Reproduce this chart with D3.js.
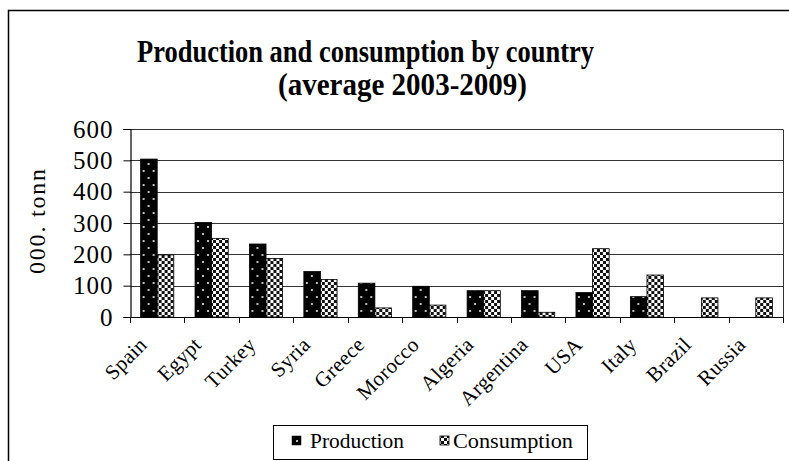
<!DOCTYPE html>
<html><head><meta charset="utf-8">
<script src="https://cdn.jsdelivr.net/npm/d3@7"></script>
<style>
html,body{margin:0;padding:0;background:#fff;}
svg{display:block;}
text{font-family:"Liberation Serif","Times New Roman",serif;fill:#000;}
</style></head>
<body>
<svg id="chart" width="789" height="461"></svg>
<script>
const countries = ["Spain","Egypt","Turkey","Syria","Greece","Morocco","Algeria","Argentina","USA","Italy","Brazil","Russia"];
const production = [504, 302, 233, 145, 108, 98, 84, 84, 78, 65, 0, 0];
const consumption = [198, 251, 187, 120, 29, 38, 84, 15, 218, 134, 61, 61];
const yTicks = [0, 100, 200, 300, 400, 500, 600];
const seriesNames = ["Production", "Consumption"];
const titleLines = ["Production and consumption by country", "(average 2003-2009)"];
const yAxisTitle = "000. tonnes";

const svg = d3.select("#chart");
const W = 789, H = 461;
const plot = {left: 130, right: 783, top: 129, bottom: 317};

// patterns
const defs = svg.append("defs");
const pp = defs.append("pattern").attr("id","prodPat").attr("patternUnits","userSpaceOnUse")
  .attr("width",10).attr("height",14);
pp.append("rect").attr("width",10).attr("height",14).attr("fill","#000");
pp.append("rect").attr("x",2).attr("y",2).attr("width",2).attr("height",2).attr("fill","#bbb");
pp.append("rect").attr("x",7).attr("y",9).attr("width",2).attr("height",2).attr("fill","#bbb");

const cp = defs.append("pattern").attr("id","consPat").attr("patternUnits","userSpaceOnUse")
  .attr("width",6).attr("height",6);
cp.append("rect").attr("width",6).attr("height",6).attr("fill","#fff");
cp.append("rect").attr("x",0).attr("y",0).attr("width",3).attr("height",3).attr("fill","#111");
cp.append("rect").attr("x",3).attr("y",3).attr("width",3).attr("height",3).attr("fill","#111");

const lp = defs.append("pattern").attr("id","legProd").attr("patternUnits","userSpaceOnUse")
  .attr("width",9).attr("height",9).attr("x",292).attr("y",436);
lp.append("rect").attr("width",9).attr("height",9).attr("fill","#000");
lp.append("rect").attr("x",4).attr("y",4).attr("width",2).attr("height",2).attr("fill","#bbb");

// outer border
svg.append("path").attr("d",`M8.5,${H} L8.5,10.5 L${W},10.5`)
  .attr("fill","none").attr("stroke","#000").attr("stroke-width",1.5);

// title
svg.append("text").attr("x",137).attr("y",62).attr("font-size",32).attr("font-weight","bold")
  .attr("textLength",457).attr("lengthAdjust","spacingAndGlyphs").text(titleLines[0]);
svg.append("text").attr("x",278).attr("y",95).attr("font-size",32).attr("font-weight","bold")
  .attr("textLength",249).attr("lengthAdjust","spacingAndGlyphs").text(titleLines[1]);

// scales
const x = d3.scaleBand().domain(countries).range([plot.left, plot.right])
  .paddingInner(0.39).paddingOuter(0.195);
const xs = d3.scaleBand().domain(seriesNames).range([0, x.bandwidth()]);
const y = d3.scaleLinear().domain([0, 600]).range([plot.bottom, plot.top]);

// gridlines
svg.append("g").selectAll("line").data(yTicks.filter(d=>d>0)).join("line")
  .attr("x1",plot.left).attr("x2",plot.right)
  .attr("y1",d=>Math.round(y(d))+0.5).attr("y2",d=>Math.round(y(d))+0.5)
  .attr("stroke","#333").attr("stroke-width",1);
// right border of plot
svg.append("line").attr("x1",plot.right+0.5).attr("x2",plot.right+0.5)
  .attr("y1",Math.round(y(600))+0.5).attr("y2",plot.bottom)
  .attr("stroke","#333").attr("stroke-width",1);

// bars
const groups = svg.append("g").selectAll("g").data(countries).join("g")
  .attr("transform",d=>`translate(${x(d)},0)`);
groups.append("rect")
  .attr("x",xs("Production")).attr("width",xs.bandwidth())
  .attr("y",(d,i)=>y(production[i])).attr("height",(d,i)=>y(0)-y(production[i]))
  .attr("fill","url(#prodPat)").attr("stroke","#000").attr("stroke-width",(d,i)=>production[i]>0?0.8:0);
groups.append("rect")
  .attr("x",xs("Consumption")).attr("width",xs.bandwidth())
  .attr("y",(d,i)=>y(consumption[i])).attr("height",(d,i)=>y(0)-y(consumption[i]))
  .attr("fill","url(#consPat)").attr("stroke","#000").attr("stroke-width",(d,i)=>consumption[i]>0?0.8:0);

// y axis
const yAxis = d3.axisLeft(y).tickValues(yTicks).tickSize(7).tickPadding(10).tickFormat(d3.format("d"));
const ga = svg.append("g").attr("transform",`translate(${plot.left+0.5},0)`).call(yAxis);
ga.select(".domain").attr("stroke","#000").attr("stroke-width",1.2);
ga.selectAll(".tick line").attr("stroke","#000");
ga.selectAll(".tick text").attr("font-size",25).attr("letter-spacing",1)
  .attr("font-family","Liberation Serif, serif").attr("fill","#000");

// x axis line and ticks at category boundaries
const half = x.step()*x.paddingInner()/2;
const boundaries = countries.map(c => x(c) - half).concat([x(countries[countries.length-1]) + x.bandwidth() + half]);
svg.append("line").attr("x1",plot.left).attr("x2",plot.right+1)
  .attr("y1",plot.bottom+0.5).attr("y2",plot.bottom+0.5).attr("stroke","#000").attr("stroke-width",1.2);
svg.append("g").selectAll("line").data(boundaries).join("line")
  .attr("x1",d=>Math.round(d)+0.5).attr("x2",d=>Math.round(d)+0.5)
  .attr("y1",plot.bottom).attr("y2",plot.bottom+6).attr("stroke","#000");

// x labels
svg.append("g").selectAll("text").data(countries).join("text")
  .attr("transform",d=>`translate(${x(d)+x.bandwidth()/2-9},346) rotate(-45)`)
  .attr("text-anchor","end").attr("font-size",21).attr("letter-spacing",0.3).text(d=>d);

// y axis title (clipped)
defs.append("clipPath").attr("id","ytClip").append("rect")
  .attr("x",10).attr("y",167).attr("width",60).attr("height",200);
svg.append("g").attr("clip-path","url(#ytClip)").append("text")
  .attr("transform","translate(45,274) rotate(-90)").attr("font-size",24).attr("letter-spacing",1.8)
  .attr("text-anchor","start").text(yAxisTitle);

// legend
svg.append("rect").attr("x",273.5).attr("y",425.5).attr("width",314).attr("height",34)
  .attr("fill","#fff").attr("stroke","#000").attr("stroke-width",1);
svg.append("rect").attr("x",292).attr("y",436).attr("width",9).attr("height",9)
  .attr("fill","url(#legProd)").attr("stroke","#000").attr("stroke-width",0.5);
svg.append("text").attr("x",310).attr("y",448).attr("font-size",20)
  .attr("textLength",94).attr("lengthAdjust","spacingAndGlyphs").text(seriesNames[0]);
svg.append("rect").attr("x",440).attr("y",436).attr("width",9).attr("height",9)
  .attr("fill","url(#consPat)").attr("stroke","#000").attr("stroke-width",0.8);
svg.append("text").attr("x",453).attr("y",448).attr("font-size",20)
  .attr("textLength",120).attr("lengthAdjust","spacingAndGlyphs").text(seriesNames[1]);
</script>
</body></html>
